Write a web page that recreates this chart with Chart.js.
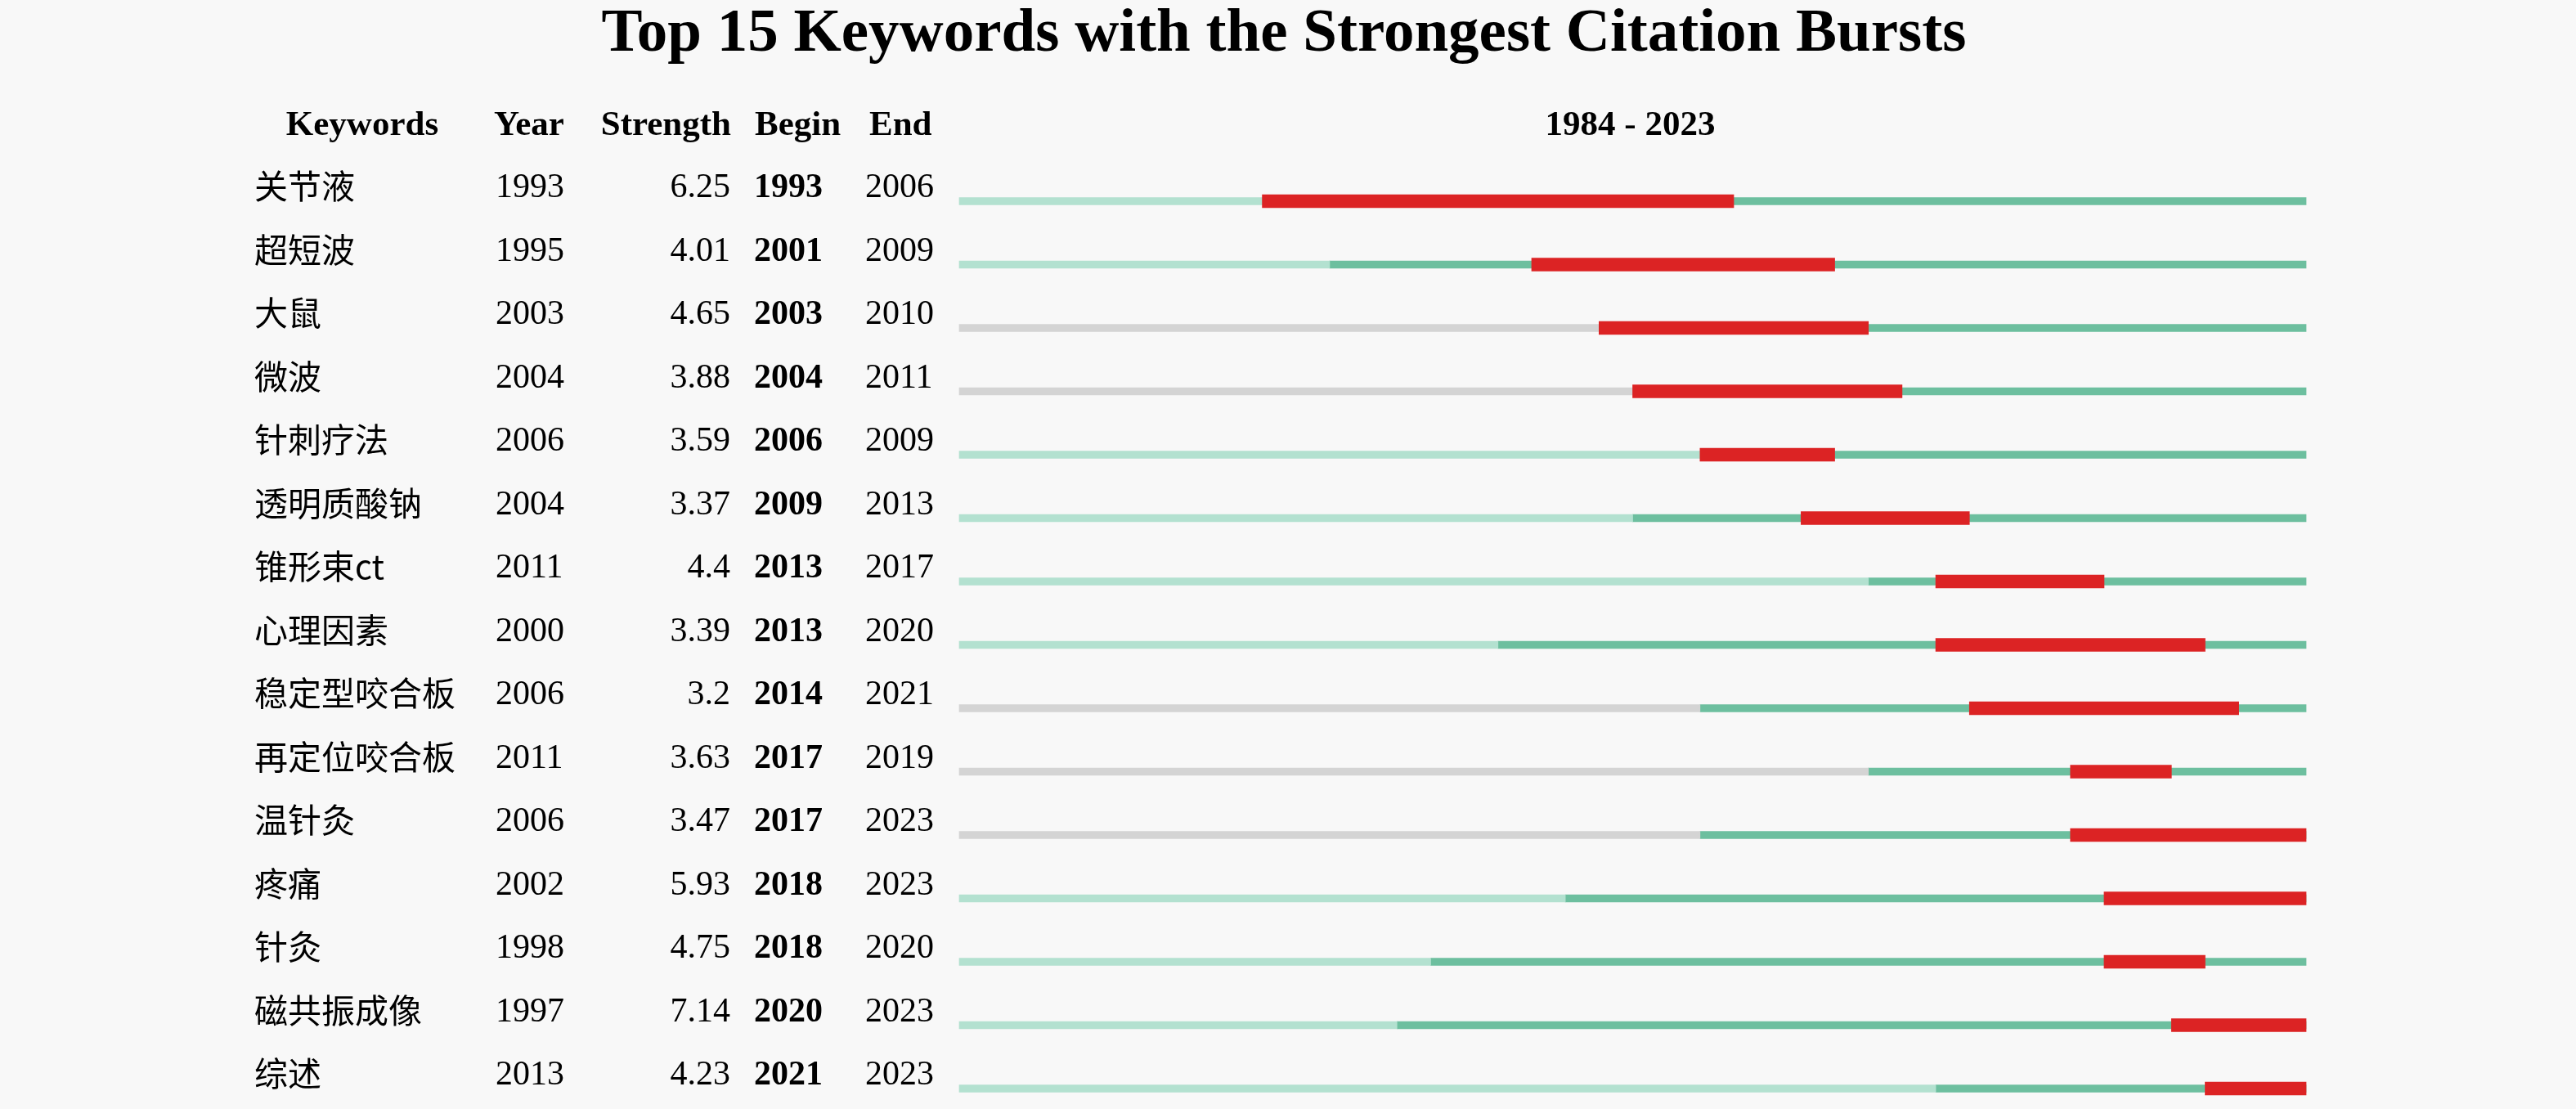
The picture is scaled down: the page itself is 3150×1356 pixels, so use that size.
<!DOCTYPE html>
<html>
<head>
<meta charset="utf-8">
<script src="https://cdn.jsdelivr.net/npm/chart.js@4/dist/chart.umd.min.js"></script>
<style>
  html, body { margin: 0; padding: 0; background: #f8f8f8; }
  #wrap { width: 3150px; height: 1356px; position: relative; }
</style>
</head>
<body>
<div id="wrap"><canvas id="c"></canvas></div>
<script>
// ---- data ----
const titleText = 'Top 15 Keywords with the Strongest Citation Bursts';
const headers = ['Keywords', 'Year', 'Strength', 'Begin', 'End'];
const startYear = 1984;
const endYear = 2023;
const keywords = ['关节液', '超短波', '大鼠', '微波', '针刺疗法', '透明质酸钠', '锥形束ct', '心理因素', '稳定型咬合板', '再定位咬合板', '温针灸', '疼痛', '针灸', '磁共振成像', '综述'];
const years = [1993, 1995, 2003, 2004, 2006, 2004, 2011, 2000, 2006, 2011, 2006, 2002, 1998, 1997, 2013];
const strengths = [6.25, 4.01, 4.65, 3.88, 3.59, 3.37, 4.4, 3.39, 3.2, 3.63, 3.47, 5.93, 4.75, 7.14, 4.23];
const begins = [1993, 2001, 2003, 2004, 2006, 2009, 2013, 2013, 2014, 2017, 2017, 2018, 2018, 2020, 2021];
const ends = [2006, 2009, 2010, 2011, 2009, 2013, 2017, 2020, 2021, 2019, 2023, 2023, 2020, 2023, 2023];

// ---- styles ----
const LIGHT = '#b3e1d0', GREY = '#d4d4d4', GREEN = '#6dbf9f', RED = '#dc2324';
const greyRows = ['大鼠', '微波', '稳定型咬合板', '再定位咬合板', '温针灸'];
const preColors = keywords.map(k => greyRows.includes(k) ? GREY : LIGHT);

const preData = keywords.map((k, i) => [startYear, years[i]]);
const midData = keywords.map((k, i) => [years[i], begins[i]]);
const burstData = keywords.map((k, i) => [begins[i], ends[i] + 1]);
const postData = keywords.map((k, i) => [ends[i] + 1, endYear + 1]);

const SERIF = '"Liberation Serif", "Times New Roman", serif';
const CJK = '"Noto Sans CJK SC", "Noto Sans", sans-serif';

const textPlugin = {
  id: 'tableText',
  afterDraw(chart) {
    const ctx = chart.ctx;
    const y = chart.scales.y;
    const area = chart.chartArea;
    ctx.save();
    ctx.fillStyle = '#000';
    ctx.textBaseline = 'alphabetic';
    // title
    ctx.font = 'bold 75px ' + SERIF;
    ctx.textAlign = 'center';
    ctx.fillText(titleText, 1570, 62);
    // headers
    const hy = 165;
    ctx.font = 'bold 43px ' + SERIF;
    ctx.textAlign = 'center';
    ctx.fillText(headers[0], 443, hy);
    ctx.textAlign = 'left';
    ctx.fillText(headers[1], 604, hy);
    ctx.textAlign = 'right';
    ctx.fillText(headers[2], 894, hy);
    ctx.textAlign = 'left';
    ctx.fillText(headers[3], 923, hy);
    ctx.fillText(headers[4], 1063, hy);
    ctx.textAlign = 'center';
    ctx.fillText(startYear + ' - ' + endYear, (area.left + area.right) / 2 - 3, hy);
    // rows
    keywords.forEach((k, i) => {
      const cy = y.getPixelForValue(i) - 5;
      ctx.textAlign = 'left';
      ctx.font = '41px ' + CJK;
      ctx.fillText(k, 311, cy + 2);
      ctx.font = '42px ' + SERIF;
      ctx.fillText(String(years[i]), 606, cy);
      ctx.textAlign = 'right';
      ctx.fillText(String(strengths[i]), 893, cy);
      ctx.textAlign = 'left';
      ctx.font = 'bold 42px ' + SERIF;
      ctx.fillText(String(begins[i]), 922, cy);
      ctx.font = '42px ' + SERIF;
      ctx.fillText(String(ends[i]), 1058, cy);
    });
    ctx.restore();
  }
};

new Chart(document.getElementById('c'), {
  type: 'bar',
  data: {
    labels: keywords,
    datasets: [
      { label: 'burst', data: burstData, backgroundColor: RED, barThickness: 16, grouped: false, order: 0, clip: false },
      { label: 'pre', data: preData, backgroundColor: preColors, barThickness: 9, grouped: false, order: 1, clip: false },
      { label: 'mid', data: midData, backgroundColor: GREEN, barThickness: 9, grouped: false, order: 1, clip: false },
      { label: 'post', data: postData, backgroundColor: GREEN, barThickness: 9, grouped: false, order: 1, clip: false }
    ]
  },
  options: {
    indexAxis: 'y',
    responsive: true,
    maintainAspectRatio: false,
    animation: false,
    layout: { padding: { left: 1173, right: 330, top: 246, bottom: 25 } },
    scales: {
      x: { type: 'linear', min: startYear, max: endYear + 1, display: false },
      y: { type: 'category', offset: false, display: false, grid: { offset: false } }
    },
    plugins: {
      legend: { display: false },
      title: { display: false },
      tooltip: { enabled: false }
    }
  },
  plugins: [textPlugin]
});
</script>
</body>
</html>
